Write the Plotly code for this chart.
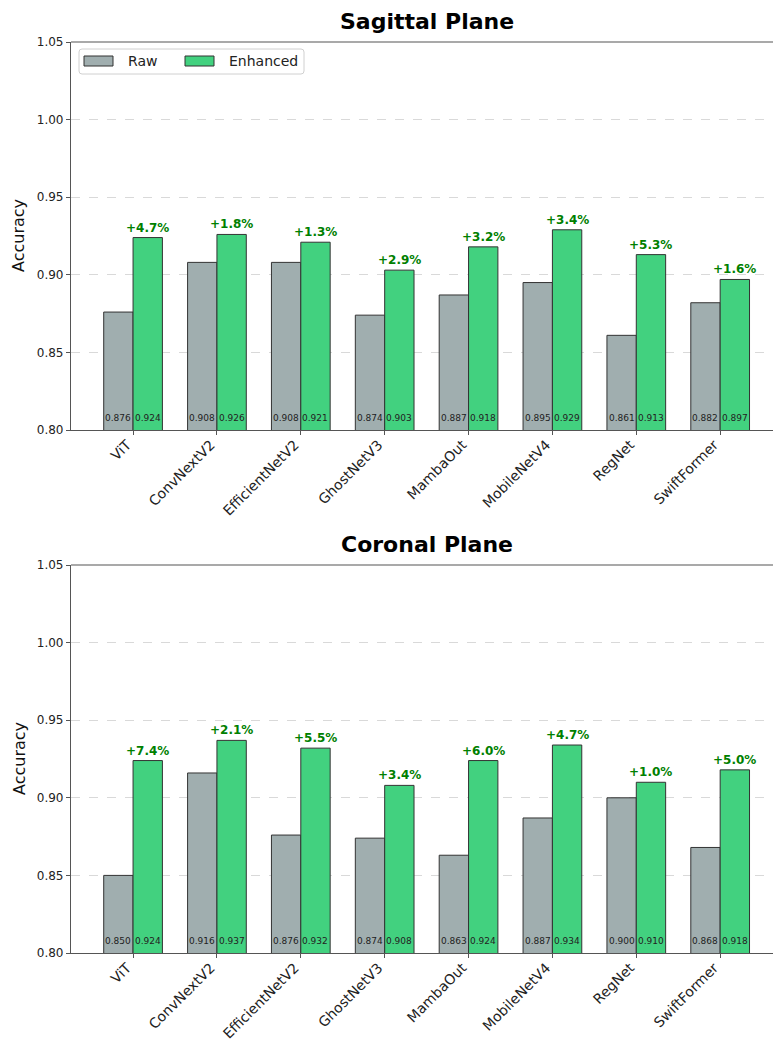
import plotly.graph_objects as go

# Model names shared by both planes
models = ["ViT", "ConvNextV2", "EfficientNetV2", "GhostNetV3",
          "MambaOut", "MobileNetV4", "RegNet", "SwiftFormer"]

# Sagittal plane accuracies
sag_raw = [0.876, 0.908, 0.908, 0.874, 0.887, 0.895, 0.861, 0.882]
sag_enh = [0.924, 0.926, 0.921, 0.903, 0.918, 0.929, 0.913, 0.897]
sag_gain = ["+4.7%", "+1.8%", "+1.3%", "+2.9%", "+3.2%", "+3.4%", "+5.3%", "+1.6%"]

# Coronal plane accuracies
cor_raw = [0.850, 0.916, 0.876, 0.874, 0.863, 0.887, 0.900, 0.868]
cor_enh = [0.924, 0.937, 0.932, 0.908, 0.924, 0.934, 0.910, 0.918]
cor_gain = ["+7.4%", "+2.1%", "+5.5%", "+3.4%", "+6.0%", "+4.7%", "+1.0%", "+5.0%"]

y_ticks = [0.80, 0.85, 0.90, 0.95, 1.00, 1.05]

W, H = 773, 1040
FONT = "DejaVu Sans"
RAW_COLOR = "#a0aeaf"
ENH_COLOR = "#42d17f"
EDGE = "#333333"
SPINE = "#555555"


def px_x(p):
    return p / W


def px_y(p):
    return 1 - p / H


panels = [
    ("Sagittal Plane", sag_raw, sag_enh, sag_gain, (42, 430), "x", "y"),
    ("Coronal Plane", cor_raw, cor_enh, cor_gain, (565, 953), "x2", "y2"),
]

fig = go.Figure()
annotations = []
shapes = []

x_left = px_x(71)
bar_w = 0.35
x_idx = list(range(len(models)))

for i, (title, raw, enh, gain, (top_px, bot_px), xa, ya) in enumerate(panels):
    fig.add_trace(go.Bar(
        x=[k - bar_w / 2 for k in x_idx], y=raw, width=bar_w, name="Raw",
        marker=dict(color=RAW_COLOR, line=dict(color=EDGE, width=1)),
        xaxis=xa, yaxis=ya, showlegend=False,
    ))
    fig.add_trace(go.Bar(
        x=[k + bar_w / 2 for k in x_idx], y=enh, width=bar_w, name="Enhanced",
        marker=dict(color=ENH_COLOR, line=dict(color=EDGE, width=1)),
        xaxis=xa, yaxis=ya, showlegend=False,
    ))

    # value labels near the bottom of each bar
    for k in x_idx:
        for xpos, val in ((k - bar_w / 2, raw[k]), (k + bar_w / 2, enh[k])):
            annotations.append(dict(
                x=xpos, y=0.80, xref=xa, yref=ya, text=f"{val:.3f}",
                showarrow=False, yanchor="bottom", yshift=5,
                font=dict(family=FONT, size=9, color="#222222")))
        # improvement above the enhanced bar
        annotations.append(dict(
            x=k + bar_w / 2, y=enh[k], xref=xa, yref=ya,
            text=f"<b>{gain[k]}</b>", showarrow=False, yanchor="bottom", yshift=1,
            font=dict(family=FONT, size=12, color="#008000")))

    # panel title
    annotations.append(dict(
        x=px_x((71 + 782) / 2), y=px_y(top_px - 21), xref="paper", yref="paper",
        text=f"<b>{title}</b>", showarrow=False, xanchor="center", yanchor="middle",
        font=dict(family=FONT, size=22, color="black")))

    # y-axis title
    annotations.append(dict(
        x=px_x(19), y=px_y((top_px + bot_px) / 2), xref="paper", yref="paper",
        text="Accuracy", showarrow=False, textangle=-90,
        xanchor="center", yanchor="middle",
        font=dict(family=FONT, size=16, color="#111111")))

    dom_y = [px_y(bot_px), px_y(top_px)]
    sfx = "" if i == 0 else "2"
    fig.update_layout(**{
        f"xaxis{sfx}": dict(
            domain=[x_left, 1], anchor=ya, range=[-0.74, 7.63],
            tickmode="array", tickvals=x_idx, ticktext=models, tickangle=-45,
            tickfont=dict(family=FONT, size=14, color="#222222"),
            ticklabelshift=-6, ticklabelstandoff=-4,
            ticks="outside", ticklen=4, tickcolor=SPINE,
            showline=True, linecolor=SPINE, linewidth=1.2,
            showgrid=False, zeroline=False, fixedrange=True, automargin=False,
        ),
        f"yaxis{sfx}": dict(
            domain=dom_y, anchor=xa, range=[0.80, 1.05],
            tickmode="array", tickvals=y_ticks,
            ticktext=[f"{v:.2f}" for v in y_ticks],
            tickfont=dict(family=FONT, size=12, color="#222222"),
            ticks="outside", ticklen=4, tickcolor=SPINE,
            showline=True, linecolor=SPINE, linewidth=1.2,
            showgrid=True, gridcolor="#d9d9d9", griddash="dash", gridwidth=0.8,
            zeroline=False, fixedrange=True, automargin=False,
        ),
    })

    # top spine
    shapes.append(dict(
        type="line", xref="paper", yref="paper",
        x0=x_left, x1=1, y0=dom_y[1], y1=dom_y[1],
        line=dict(color=SPINE, width=1.2)))

# legend box with rounded corners (top panel, upper left)
lx0, lx1, ly0, ly1, r = 79, 304, 49, 74, 3
legend_path = (
    f"M {px_x(lx0 + r)} {px_y(ly0)} L {px_x(lx1 - r)} {px_y(ly0)} "
    f"Q {px_x(lx1)} {px_y(ly0)} {px_x(lx1)} {px_y(ly0 + r)} "
    f"L {px_x(lx1)} {px_y(ly1 - r)} "
    f"Q {px_x(lx1)} {px_y(ly1)} {px_x(lx1 - r)} {px_y(ly1)} "
    f"L {px_x(lx0 + r)} {px_y(ly1)} "
    f"Q {px_x(lx0)} {px_y(ly1)} {px_x(lx0)} {px_y(ly1 - r)} "
    f"L {px_x(lx0)} {px_y(ly0 + r)} "
    f"Q {px_x(lx0)} {px_y(ly0)} {px_x(lx0 + r)} {px_y(ly0)} Z"
)
shapes.append(dict(type="path", xref="paper", yref="paper", path=legend_path,
                   fillcolor="rgba(255,255,255,0.8)",
                   line=dict(color="#d0d0d0", width=1)))

legend_items = [("Raw", RAW_COLOR, 84), ("Enhanced", ENH_COLOR, 185)]
for label, color, x0 in legend_items:
    shapes.append(dict(type="rect", xref="paper", yref="paper",
                       x0=px_x(x0), x1=px_x(x0 + 29), y0=px_y(66), y1=px_y(56),
                       fillcolor=color, line=dict(color=EDGE, width=1)))
    annotations.append(dict(
        x=px_x(x0 + 42), y=px_y(61), xref="paper", yref="paper", text=label,
        showarrow=False, xanchor="left", yanchor="middle",
        font=dict(family=FONT, size=14, color="#222222")))

fig.update_layout(
    width=W, height=H,
    margin=dict(l=0, r=0, t=0, b=0, autoexpand=False),
    paper_bgcolor="white", plot_bgcolor="white",
    barmode="overlay",
    annotations=annotations, shapes=shapes,
    showlegend=False,
    font=dict(family=FONT),
)

fig.write_html("out.html")
